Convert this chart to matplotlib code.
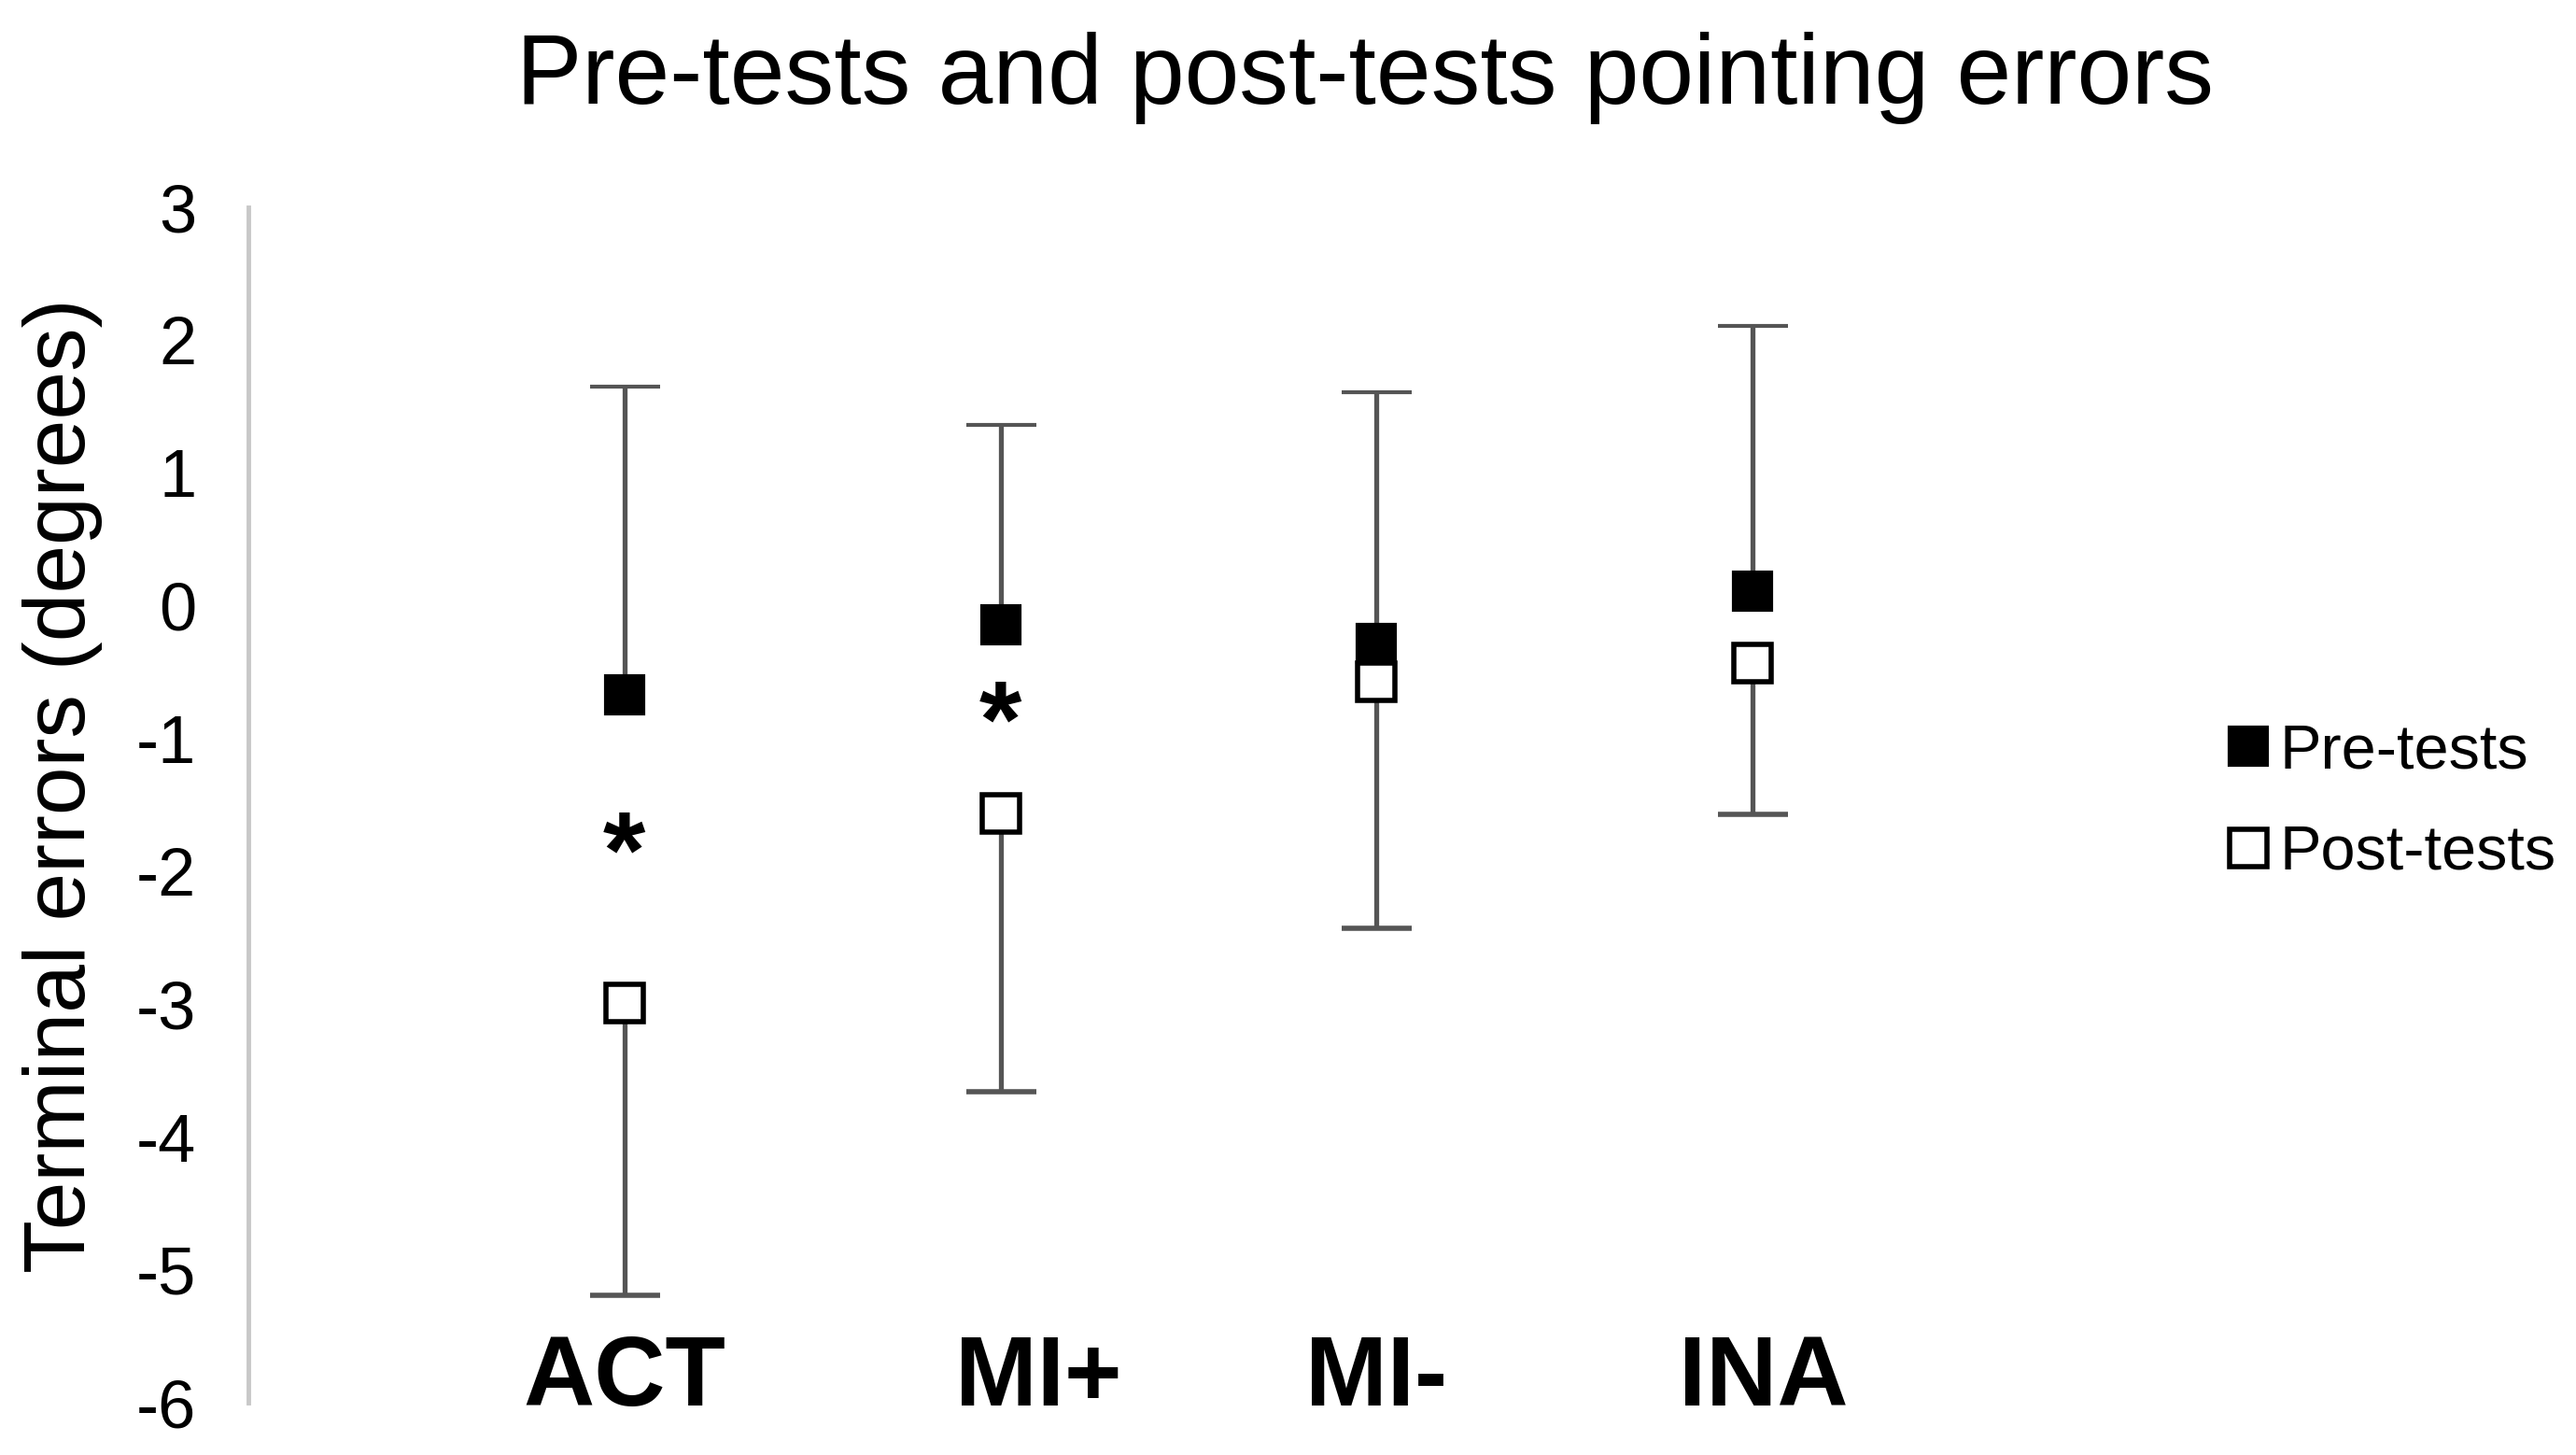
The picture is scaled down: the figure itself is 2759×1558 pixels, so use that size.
import matplotlib.pyplot as plt
from matplotlib.lines import Line2D

plt.rcParams['font.family'] = ['Liberation Sans', 'DejaVu Sans']

groups = ['ACT', 'MI+', 'MI-', 'INA']
pre_mean = [-0.67, -0.14, -0.28, 0.11]
pre_sd = [2.32, 1.50, 1.89, 2.00]
post_mean = [-2.99, -1.56, -0.57, -0.43]
post_sd = [2.20, 2.10, 1.86, 1.14]
# significance stars: (group index, y)
stars = [(0, -1.91), (1, -0.92)]
yticks = [3, 2, 1, 0, -1, -2, -3, -4, -5, -6]

# small horizontal nudges of the group labels, as in the original
label_dx = [0.0, 0.1, 0.0, 0.03]

fig = plt.figure(figsize=(27.59, 15.58), dpi=100)
ax = fig.add_axes([0.0964, 0.0359, 0.73, 0.8216])

x = list(range(len(groups)))
bar_kw = dict(ls='none', ecolor='#555555', elinewidth=3.8, capsize=27,
              capthick=3.8, marker='s', markersize=29, zorder=3)

# pre-tests: upper bars only, post-tests: lower bars only
pre = ax.errorbar(x, pre_mean, yerr=[[0] * 4, pre_sd], mfc='black',
                  mec='black', mew=3, **bar_kw)
post = ax.errorbar(x, post_mean, yerr=[post_sd, [0] * 4], mfc='white',
                   mec='black', mew=4, **bar_kw)
pre[1][0].set_visible(False)
post[1][1].set_visible(False)

for i, y in stars:
    ax.text(i, y, '*', ha='center', va='center', fontsize=84,
            fontweight='bold')

for i, g in enumerate(groups):
    ax.text(i + label_dx[i], -6.02, g, ha='center', va='baseline',
            fontsize=76, fontweight='bold', clip_on=False)

ax.set_xlim(-1, 4)
ax.set_ylim(-6, 3)
ax.set_yticks(yticks)
ax.set_yticklabels([str(t) for t in yticks])
ax.tick_params(axis='y', length=0, labelsize=52, pad=40)
ax.set_xticks([])
for s in ['top', 'right', 'bottom']:
    ax.spines[s].set_visible(False)
ax.spines['left'].set_color('#c8c8c8')
ax.spines['left'].set_linewidth(3.5)
ax.set_ylabel('Terminal errors (degrees)', fontsize=67)
ax.yaxis.set_label_coords(-0.0775, 0.516)

fig.suptitle('Pre-tests and post-tests pointing errors', fontsize=76,
             x=0.53, y=0.978, va='top')

handles = [
    Line2D([], [], ls='none', marker='s', markersize=29, mfc='black',
           mec='black', mew=3),
    Line2D([], [], ls='none', marker='s', markersize=29, mfc='white',
           mec='black', mew=4),
]
fig.legend(handles, ['Pre-tests', 'Post-tests'], loc='center left',
           bbox_to_anchor=(0.839, 0.4483), frameon=False, fontsize=48,
           handletextpad=0.0, labelspacing=0.7, handlelength=1.0)

plt.savefig('out.png', dpi=100)
